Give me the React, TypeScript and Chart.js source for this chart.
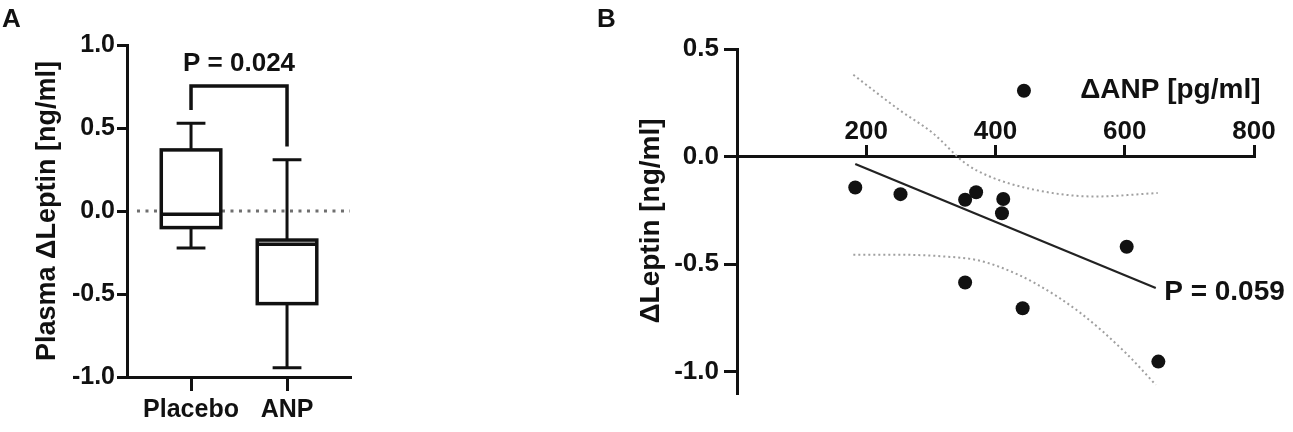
import React, { useEffect, useRef } from 'react';
import { Chart, registerables } from 'chart.js';

Chart.register(...registerables);

// ---------- Panel A data ----------
const groupLabels = ['Placebo', 'ANP'];
const groupPositions = [1, 2];
// [lower whisker, Q1, median, Q3, upper whisker]
const placeboStats = [-0.223, -0.1, -0.02, 0.368, 0.529];
const anpStats = [-0.945, -0.558, -0.2, -0.175, 0.308];
const bracketX = [1, 1, 2, 2];
const bracketY = [0.609, 0.753, 0.753, 0.388];
const pTextA = 'P = 0.024';
const pTextAPos = [1.5, 0.886];
const zeroLineX = [0.437, 2.656];
const yTicksA = [-1, -0.5, 0, 0.5, 1];
const yTitleA = 'Plasma ΔLeptin [ng/ml]';

// ---------- Panel B data ----------
const anpX = [183, 253, 353, 370, 412, 410, 444, 603, 353, 442, 652];
const leptinY = [-0.144, -0.175, -0.201, -0.166, -0.198, -0.264, 0.306, -0.42, -0.586, -0.706, -0.954];
const fitX = [183, 648];
const fitY = [-0.035, -0.612];
const upperX = [180, 251, 303, 353, 391, 461, 553, 651];
const upperY = [0.38, 0.217, 0.109, -0.031, -0.093, -0.155, -0.186, -0.17];
const lowerX = [180, 251, 321, 370, 405, 461, 532, 602, 648];
const lowerY = [-0.457, -0.457, -0.465, -0.481, -0.512, -0.589, -0.729, -0.915, -1.062];
const xTicksB = [200, 400, 600, 800];
const yTicksB = [-1, -0.5, 0, 0.5];
const xTitleB = 'ΔANP [pg/ml]';
const xTitleBPos = [531, 0.306];
const yTitleB = 'ΔLeptin [ng/ml]';
const pTextB = 'P = 0.059';
const pTextBPos = [661, -0.63];

const FONT = "'Liberation Sans', Arial, Helvetica, sans-serif";
const INK = '#111';

const zip = (xs: number[], ys: number[]) => xs.map((x, i) => ({ x, y: ys[i] }));

const boxPlugin = {
  id: 'boxPlugin',
  afterDatasetsDraw(chart: any) {
    const { ctx, scales } = chart;
    const xs = scales.x;
    const ys = scales.y;
    const stats = [placeboStats, anpStats];
    const halfBox = 0.31;
    const halfCap = 0.15;
    ctx.save();
    ctx.strokeStyle = INK;
    ctx.lineWidth = 3.5;
    ctx.lineCap = 'butt';
    stats.forEach((s, i) => {
      const pos = groupPositions[i];
      const cx = xs.getPixelForValue(pos);
      const l = xs.getPixelForValue(pos - halfBox);
      const r = xs.getPixelForValue(pos + halfBox);
      const cl = xs.getPixelForValue(pos - halfCap);
      const cr = xs.getPixelForValue(pos + halfCap);
      const [mn, q1, med, q3, mx] = s.map((v) => ys.getPixelForValue(v));
      ctx.lineWidth = 3;
      ctx.beginPath();
      ctx.moveTo(cx, mx);
      ctx.lineTo(cx, q3);
      ctx.moveTo(cx, q1);
      ctx.lineTo(cx, mn);
      ctx.moveTo(cl, mx);
      ctx.lineTo(cr, mx);
      ctx.moveTo(cl, mn);
      ctx.lineTo(cr, mn);
      ctx.stroke();
      ctx.lineWidth = 3.5;
      ctx.fillStyle = '#fff';
      ctx.fillRect(l, q3, r - l, q1 - q3);
      ctx.strokeRect(l, q3, r - l, q1 - q3);
      ctx.beginPath();
      ctx.moveTo(l, med);
      ctx.lineTo(r, med);
      ctx.stroke();
    });
    ctx.fillStyle = INK;
    ctx.font = `bold 26px ${FONT}`;
    ctx.textAlign = 'center';
    ctx.textBaseline = 'middle';
    ctx.fillText(pTextA, xs.getPixelForValue(pTextAPos[0]), ys.getPixelForValue(pTextAPos[1]));
    ctx.restore();
  },
};

const textPluginB = {
  id: 'textPluginB',
  afterDatasetsDraw(chart: any) {
    const { ctx, scales } = chart;
    const xs = scales.x;
    const ys = scales.y;
    ctx.save();
    ctx.fillStyle = INK;
    ctx.font = `bold 28px ${FONT}`;
    ctx.textAlign = 'left';
    ctx.textBaseline = 'middle';
    ctx.fillText(xTitleB, xs.getPixelForValue(xTitleBPos[0]), ys.getPixelForValue(xTitleBPos[1]));
    ctx.fillText(pTextB, xs.getPixelForValue(pTextBPos[0]), ys.getPixelForValue(pTextBPos[1]));
    ctx.restore();
  },
};

export default function App() {
  const refA = useRef<HTMLCanvasElement>(null);
  const refB = useRef<HTMLCanvasElement>(null);

  useEffect(() => {
    Chart.defaults.font.family = FONT;
    Chart.defaults.font.weight = 'bold' as any;
    Chart.defaults.color = INK;

    const axisCommon = {
      grid: { drawOnChartArea: false, color: INK, lineWidth: 3 },
      border: { display: true, color: INK, width: 3 },
    };

    const chartA = new Chart(refA.current!, {
      type: 'line',
      data: {
        datasets: [
          {
            data: zip(zeroLineX, [0, 0]),
            borderColor: '#6f6f6f',
            borderWidth: 3,
            borderDash: [3, 5.5],
            pointRadius: 0,
          },
          {
            data: zip(bracketX, bracketY),
            borderColor: INK,
            borderWidth: 3.5,
            pointRadius: 0,
            tension: 0,
          },
        ],
      },
      options: {
        animation: false,
        responsive: false,
        maintainAspectRatio: false,
        layout: { padding: { top: 45, right: 70, bottom: 0, left: 0 } },
        plugins: { legend: { display: false }, tooltip: { enabled: false } },
        scales: {
          x: {
            type: 'linear',
            min: 0.333,
            max: 2.656,
            afterBuildTicks: (s: any) => {
              s.ticks = groupPositions.map((v) => ({ value: v }));
            },
            afterFit: (s: any) => {
              s.height = 55;
            },
            ticks: {
              callback: (v: any) => groupLabels[groupPositions.indexOf(Number(v))] ?? '',
              font: { size: 25, weight: 'bold' },
              color: INK,
              padding: 4,
              maxRotation: 0,
              autoSkip: false,
            },
            grid: { ...axisCommon.grid, tickLength: 14 },
            border: axisCommon.border,
          },
          y: {
            type: 'linear',
            min: -1,
            max: 1,
            afterBuildTicks: (s: any) => {
              s.ticks = yTicksA.map((v) => ({ value: v }));
            },
            afterFit: (s: any) => {
              s.width = 127;
            },
            ticks: {
              callback: (v: any) => Number(v).toFixed(1),
              font: { size: 25, weight: 'bold' },
              color: INK,
              padding: 2,
            },
            grid: { ...axisCommon.grid, tickLength: 10 },
            border: axisCommon.border,
            title: {
              display: true,
              text: yTitleA,
              font: { size: 27, weight: 'bold' },
              color: INK,
              padding: { top: 31, bottom: 0 },
            },
          },
        },
      } as any,
      plugins: [boxPlugin],
    });

    const chartB = new Chart(refB.current!, {
      type: 'scatter',
      data: {
        datasets: [
          {
            type: 'line',
            data: zip(upperX, upperY),
            borderColor: '#a0a0a0',
            borderWidth: 2,
            borderDash: [2, 3],
            pointRadius: 0,
            cubicInterpolationMode: 'monotone',
          },
          {
            type: 'line',
            data: zip(lowerX, lowerY),
            borderColor: '#a0a0a0',
            borderWidth: 2,
            borderDash: [2, 3],
            pointRadius: 0,
            cubicInterpolationMode: 'monotone',
          },
          {
            type: 'line',
            data: zip(fitX, fitY),
            borderColor: '#222',
            borderWidth: 2.2,
            pointRadius: 0,
          },
          {
            type: 'scatter',
            data: zip(anpX, leptinY),
            backgroundColor: INK,
            borderColor: INK,
            pointRadius: 7,
            borderWidth: 0,
          },
        ],
      },
      options: {
        animation: false,
        responsive: false,
        maintainAspectRatio: false,
        layout: { padding: { top: 49, right: 39, bottom: 39, left: 0 } },
        plugins: { legend: { display: false }, tooltip: { enabled: false } },
        scales: {
          x: {
            type: 'linear',
            axis: 'x',
            position: { y: 0 },
            min: 0,
            max: 800,
            afterBuildTicks: (s: any) => {
              s.ticks = xTicksB.map((v) => ({ value: v }));
            },
            ticks: {
              callback: (v: any) => String(v),
              font: { size: 26, weight: 'bold' },
              color: INK,
              padding: -27,
              maxRotation: 0,
              autoSkip: false,
            },
            grid: { ...axisCommon.grid, tickLength: -13 },
            border: axisCommon.border,
          },
          y: {
            type: 'linear',
            position: 'left',
            min: -1.1,
            max: 0.5,
            afterBuildTicks: (s: any) => {
              s.ticks = yTicksB.map((v) => ({ value: v }));
            },
            afterFit: (s: any) => {
              s.width = 157;
            },
            ticks: {
              callback: (v: any) => Number(v).toFixed(1),
              font: { size: 26, weight: 'bold' },
              color: INK,
              padding: 5,
            },
            grid: { ...axisCommon.grid, tickLength: 13 },
            border: axisCommon.border,
            title: {
              display: true,
              text: yTitleB,
              font: { size: 28, weight: 'bold' },
              color: INK,
              padding: { top: 54, bottom: 0 },
            },
          },
        },
      } as any,
      plugins: [textPluginB],
    });

    return () => {
      chartA.destroy();
      chartB.destroy();
    };
  }, []);

  const letterStyle: React.CSSProperties = {
    position: 'absolute',
    fontFamily: FONT,
    fontWeight: 'bold',
    fontSize: 26,
    lineHeight: '26px',
    color: INK,
  };

  return (
    <div
      style={{
        position: 'fixed',
        left: 0,
        top: 0,
        width: 1293,
        height: 432,
        background: '#fff',
        overflow: 'hidden',
      }}
    >
      <canvas
        ref={refA}
        width={420}
        height={432}
        style={{ position: 'absolute', left: 0, top: 0, width: 420, height: 432 }}
      />
      <canvas
        ref={refB}
        width={713}
        height={432}
        style={{ position: 'absolute', left: 580, top: 0, width: 713, height: 432 }}
      />
      <div style={{ ...letterStyle, left: 2, top: 5 }}>A</div>
      <div style={{ ...letterStyle, left: 597, top: 5 }}>B</div>
    </div>
  );
}
